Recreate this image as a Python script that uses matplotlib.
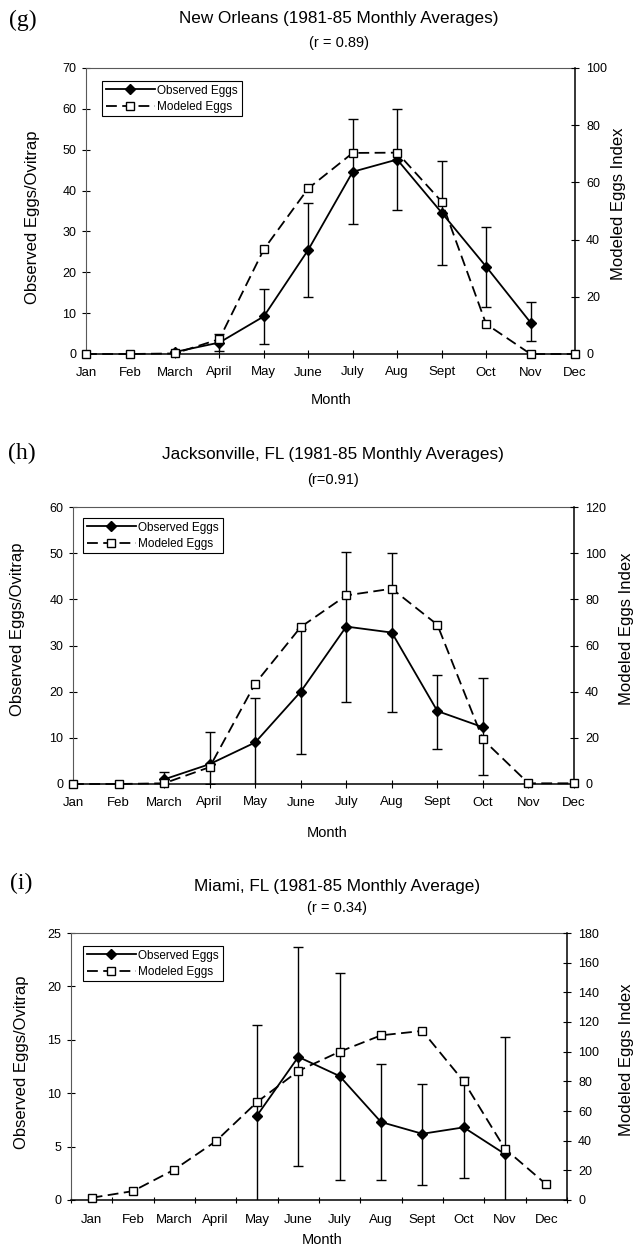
import matplotlib
matplotlib.use("Agg")
import matplotlib.pyplot as plt
from matplotlib.lines import Line2D
import numpy as np

plt.rcParams['font.family'] = ['Liberation Sans', 'DejaVu Sans']

months = ['Jan', 'Feb', 'March', 'April', 'May', 'June', 'July', 'Aug', 'Sept', 'Oct', 'Nov', 'Dec']
nan = np.nan

# (g) New Orleans
no_obs = [nan, nan, 0.5, 2.8, 9.2, 25.5, 44.6, 47.6, 34.6, 21.4, 7.7, nan]
no_err_lo = [nan, nan, 0.3, 2.0, 6.8, 11.5, 12.8, 12.3, 12.7, 9.8, 4.6, nan]
no_err_hi = [nan, nan, 0.3, 2.0, 6.8, 11.5, 12.8, 12.3, 12.7, 9.8, 5.0, nan]
no_mod = [0, 0, 0.2, 5.2, 36.6, 57.9, 70.3, 70.4, 53.3, 10.5, 0, 0]
no_left_ticks = [0, 10, 20, 30, 40, 50, 60, 70]
no_right_ticks = [0, 20, 40, 60, 80, 100]

# (h) Jacksonville
ja_obs = [nan, nan, 1.0, 4.3, 9.0, 20.0, 34.1, 32.8, 15.8, 12.3, nan, nan]
ja_err_lo = [nan, nan, 1.0, 4.3, 9.4, 13.5, 16.3, 17.3, 8.2, 10.4, nan, nan]
ja_err_hi = [nan, nan, 1.5, 6.9, 9.6, 13.5, 16.1, 17.3, 7.9, 10.6, nan, nan]
ja_mod = [0, 0, 0.3, 7.3, 43.5, 68.0, 81.7, 84.6, 69.0, 19.3, 0.3, 0.3]
ja_left_ticks = [0, 10, 20, 30, 40, 50, 60]
ja_right_ticks = [0, 20, 40, 60, 80, 100, 120]

# (i) Miami
mi_obs = [nan, nan, nan, nan, 7.9, 13.4, 11.6, 7.3, 6.2, 6.8, 4.3, nan]
mi_err_lo = [nan, nan, nan, nan, 8.5, 10.2, 9.7, 5.4, 4.8, 4.7, 11.0, nan]
mi_err_hi = [nan, nan, nan, nan, 8.5, 10.3, 9.7, 5.4, 4.7, 4.7, 11.0, nan]
mi_mod = [1.5, 6, 20.5, 39.5, 66, 87, 100, 111, 114, 80, 34.5, 10.5]
mi_left_ticks = [0, 5, 10, 15, 20, 25]
mi_right_ticks = [0, 20, 40, 60, 80, 100, 120, 140, 160, 180]

W, H = 635, 1251
fig = plt.figure(figsize=(W / 100, H / 100), dpi=100)


def fx(px):
    return px / W


def fy(py):
    return 1 - py / H


def panel(box, obs, elo, ehi, mod, lt, rt, centered, label, title, sub,
          title_xy, sub_y, label_xy, ylab_l, ylab_r, month_xy, leg_xy):
    l, r, t, b = box
    ax = fig.add_axes([fx(l), fy(b), fx(r - l), (b - t) / H])
    ax2 = ax.twinx()
    x = np.arange(12)
    obs = np.array(obs, float)
    elo = np.array(elo, float)
    ehi = np.array(ehi, float)
    m = ~np.isnan(obs)
    ax.errorbar(x[m], obs[m], yerr=[elo[m], ehi[m]], fmt='none', ecolor='black',
                elinewidth=1.0, capsize=3.5, capthick=1.0, zorder=2)
    ax.plot(x[m], obs[m], '-', color='black', lw=1.3, marker='D', ms=5.5,
            mfc='black', mec='black', zorder=3, clip_on=False)
    ax2.plot(x, mod, color='black', lw=1.3, dashes=(6, 3), marker='s', ms=6,
             mfc='white', mec='black', mew=1.0, zorder=4, clip_on=False)
    ax.set_ylim(lt[0], lt[-1])
    ax2.set_ylim(rt[0], rt[-1])
    ax.set_yticks(lt)
    ax2.set_yticks(rt)
    ax.set_yticklabels([str(v) for v in lt])
    ax2.set_yticklabels([str(v) for v in rt])
    if centered:
        ax.set_xlim(-0.5, 11.5)
        ax.set_xticks(np.arange(-0.5, 12, 1.0))
        ax.set_xticklabels([])
        ax.set_xticks(x, minor=True)
        ax.set_xticklabels(months, minor=True)
        ax.tick_params(axis='x', which='minor', length=0, pad=10, labelsize=9.5)
        ax.tick_params(axis='x', which='major', direction='inout', length=5, width=0.8)
    else:
        ax.set_xlim(0, 11)
        ax.set_xticks(x)
        ax.set_xticklabels(months)
        ax.tick_params(axis='x', direction='inout', length=6, width=0.8, pad=6,
                       labelsize=9.5)
    ax.tick_params(axis='y', direction='inout', length=6, width=0.8, pad=4,
                   labelsize=9)
    ax2.tick_params(axis='y', direction='inout', length=6, width=0.8, pad=5,
                    labelsize=9)
    ax2.set_xlim(ax.get_xlim())
    for s in ('top', 'left'):
        ax.spines[s].set_linestyle((0, (1, 1)))
        ax.spines[s].set_color('0.35')
        ax.spines[s].set_linewidth(0.8)
    ax.spines['bottom'].set_linewidth(1.1)
    ax.spines['right'].set_visible(False)
    for s in ('top', 'left', 'bottom'):
        ax2.spines[s].set_visible(False)
    ax2.spines['right'].set_linewidth(1.1)

    handles = [Line2D([], [], color='black', lw=1.3, marker='D', ms=5.5),
               Line2D([], [], color='black', lw=1.3, dashes=(6, 3), marker='s', ms=6,
                      mfc='white', mec='black')]
    leg = ax2.legend(handles, ['Observed Eggs', 'Modeled Eggs'], loc='upper left',
                     bbox_to_anchor=(fx(leg_xy[0]), fy(leg_xy[1])),
                     bbox_transform=fig.transFigure, fontsize=8.5, frameon=True,
                     fancybox=False, edgecolor='black', framealpha=1,
                     handlelength=4.2, handletextpad=0.2, borderpad=0.3,
                     labelspacing=0.35, borderaxespad=0)
    leg.get_frame().set_linewidth(0.8)

    fig.text(fx(label_xy[0]), fy(label_xy[1]), label, family='Liberation Serif',
             fontsize=17, ha='left', va='center')
    fig.text(fx(title_xy[0]), fy(title_xy[1]), title, fontsize=12.3, ha='center',
             va='center')
    fig.text(fx(title_xy[0]), fy(sub_y), sub, fontsize=10.5, ha='center', va='center')
    fig.text(fx(ylab_l[0]), fy(ylab_l[1]), 'Observed Eggs/Ovitrap', fontsize=12,
             rotation=90, ha='center', va='center')
    fig.text(fx(ylab_r[0]), fy(ylab_r[1]), 'Modeled Eggs Index', fontsize=12,
             rotation=90, ha='center', va='center')
    fig.text(fx(month_xy[0]), fy(month_xy[1]), 'Month', fontsize=10.5, ha='center',
             va='center')


panel((86, 575, 68, 354), no_obs, no_err_lo, no_err_hi, no_mod,
      no_left_ticks, no_right_ticks, False, '(g)',
      'New Orleans (1981-85 Monthly Averages)', '(r = 0.89)',
      (339, 19), 43, (9, 20), (33, 217), (618, 204), (331, 400), (102, 81))

panel((73, 574, 507, 784), ja_obs, ja_err_lo, ja_err_hi, ja_mod,
      ja_left_ticks, ja_right_ticks, False, '(h)',
      'Jacksonville, FL (1981-85 Monthly Averages)', '(r=0.91)',
      (333, 454), 480, (8, 453), (18, 629), (626, 629), (327, 833), (83, 518))

panel((71, 567, 933, 1200), mi_obs, mi_err_lo, mi_err_hi, mi_mod,
      mi_left_ticks, mi_right_ticks, True, '(i)',
      'Miami, FL (1981-85 Monthly Average)', '(r = 0.34)',
      (337, 887), 908, (10, 883), (22, 1062), (626, 1060), (322, 1240), (83, 946))

fig.savefig('out.png', dpi=100)
